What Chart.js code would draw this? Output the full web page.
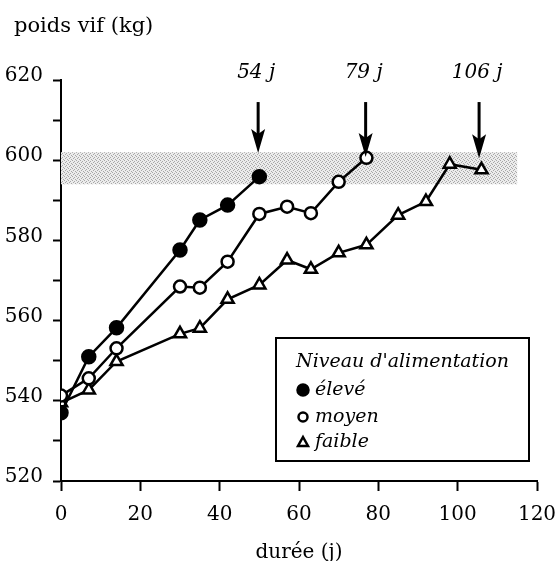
<!DOCTYPE html>
<html>
<head>
<meta charset="utf-8">
<script src="https://cdn.jsdelivr.net/npm/chart.js@4"></script>
<style>
  html, body { margin: 0; padding: 0; background: #fff; }
  #wrap { width: 557px; height: 561px; position: relative; }
</style>
</head>
<body>
<div id="wrap"><canvas id="poidsChart"></canvas></div>
<script>
// données
const eleveJours = [0, 7, 14, 30, 35, 42, 50];
const eleveKg = [537, 551, 558.2, 577.6, 585.1, 588.8, 595.9];

const moyenJours = [0, 7, 14, 30, 35, 42, 50, 57, 63, 70, 77];
const moyenKg = [541.3, 545.6, 553.1, 568.5, 568.2, 574.7, 586.6, 588.4, 586.8, 594.6, 600.6];

const faibleJours = [0, 7, 14, 30, 35, 42, 50, 57, 63, 70, 77, 85, 92, 98, 106];
const faibleKg = [539.5, 542.7, 549.8, 556.7, 558.1, 565.3, 568.9, 575.1, 572.8, 576.9, 578.9, 586.3, 589.7, 599, 597.6];

// zone grisée (poids d'abattage visé)
const bandeKg = [594, 602];
const bandeJours = [0, 115];

// flèches + durées
const flecheJours = [49.7, 76.8, 105.4];
const flecheLabels = ['54 j', '79 j', '106 j'];
const flecheHautKg = 614.5;
const flechePointeKg = [601.8, 600.8, 600.5];
const flecheLabelKg = 621.7;

const titreY = 'poids vif (kg)';
const titreX = 'durée (j)';

const SERIF = "'DejaVu Serif', serif";

function toPts(xs, ys) {
    return xs.map((x, i) => ({ x: x, y: ys[i] }));
}

// motif pointillé pour la bande
function makeStipple(ctx) {
    const c = document.createElement('canvas');
    c.width = 4; c.height = 4;
    const p = c.getContext('2d');
    p.fillStyle = '#ececec';
    p.fillRect(0, 0, 4, 4);
    p.fillStyle = '#a8a8a8';
    p.fillRect(0, 0, 1, 1);
    p.fillRect(2, 1, 1, 1);
    p.fillRect(1, 2, 1, 1);
    p.fillRect(3, 3, 1, 1);
    return ctx.createPattern(c, 'repeat');
}

const annotations = {
    id: 'annotations',
    beforeDatasetsDraw(chart) {
        const { ctx, scales: { x, y }, chartArea } = chart;
        ctx.save();
        ctx.beginPath();
        ctx.rect(chartArea.left, chartArea.top, chartArea.width, chartArea.height);
        ctx.clip();
        const x0 = x.getPixelForValue(bandeJours[0]);
        const x1 = x.getPixelForValue(bandeJours[1]);
        const y0 = y.getPixelForValue(bandeKg[1]);
        const y1 = y.getPixelForValue(bandeKg[0]);
        ctx.fillStyle = makeStipple(ctx);
        ctx.fillRect(x0, y0, x1 - x0, y1 - y0);
        ctx.restore();
    },
    afterDraw(chart) {
        const { ctx, scales: { x, y }, chartArea } = chart;
        ctx.save();

        // titre de l'axe y, en haut à gauche
        ctx.fillStyle = '#000';
        ctx.font = '21px ' + SERIF;
        ctx.textAlign = 'left';
        ctx.textBaseline = 'middle';
        ctx.fillText(titreY, 14, 27);

        // flèches
        flecheJours.forEach((j, i) => {
            const px = x.getPixelForValue(j);
            const top = y.getPixelForValue(flecheHautKg);
            const tip = y.getPixelForValue(flechePointeKg[i]);
            ctx.strokeStyle = '#000';
            ctx.lineWidth = 3;
            ctx.beginPath();
            ctx.moveTo(px, top);
            ctx.lineTo(px, tip - 18);
            ctx.stroke();
            ctx.fillStyle = '#000';
            ctx.beginPath();
            ctx.moveTo(px - 7, tip - 24);
            ctx.lineTo(px, tip - 19);
            ctx.lineTo(px + 7, tip - 24);
            ctx.lineTo(px, tip);
            ctx.closePath();
            ctx.fill();

            ctx.font = 'italic 20px ' + SERIF;
            ctx.textAlign = 'center';
            ctx.textBaseline = 'middle';
            ctx.fillText(flecheLabels[i], px - 2, y.getPixelForValue(flecheLabelKg));
        });

        // légende encadrée
        const bx = chartArea.right - 261, by = chartArea.bottom - 143;
        const bw = 253, bh = 123;
        ctx.fillStyle = '#fff';
        ctx.fillRect(bx, by, bw, bh);
        ctx.strokeStyle = '#000';
        ctx.lineWidth = 2;
        ctx.strokeRect(bx, by, bw, bh);

        ctx.fillStyle = '#000';
        ctx.font = 'italic 19px ' + SERIF;
        ctx.textAlign = 'left';
        ctx.textBaseline = 'alphabetic';
        ctx.fillText("Niveau d'alimentation", bx + 20, by + 29);

        const rows = [52, 79, 104];
        ctx.textBaseline = 'middle';
        chart.data.datasets.forEach((ds, i) => {
            const my = by + rows[i];
            const mx = bx + 27;
            ctx.lineWidth = 2.5;
            ctx.strokeStyle = '#000';
            ctx.fillStyle = ds.pointBackgroundColor;
            ctx.beginPath();
            if (ds.pointStyle === 'triangle') {
                ctx.moveTo(mx, my - 5);
                ctx.lineTo(mx + 5, my + 4);
                ctx.lineTo(mx - 5, my + 4);
                ctx.closePath();
            } else {
                ctx.arc(mx, my, ds.pointBackgroundColor === '#000' ? 5.5 : 4.5, 0, Math.PI * 2);
            }
            ctx.fill();
            ctx.stroke();
            ctx.fillStyle = '#000';
            ctx.fillText(ds.label, bx + 39, my);
        });

        ctx.restore();
    }
};

const serieStyle = {
    borderColor: '#000',
    borderWidth: 2.5,
    pointBorderColor: '#000',
    pointBorderWidth: 2.5,
    tension: 0,
    fill: false
};

new Chart(document.getElementById('poidsChart'), {
    type: 'line',
    data: {
        datasets: [
            Object.assign({ label: 'élevé', data: toPts(eleveJours, eleveKg),
                pointStyle: 'circle', pointRadius: 6.5, pointBackgroundColor: '#000' }, serieStyle),
            Object.assign({ label: 'moyen', data: toPts(moyenJours, moyenKg),
                pointStyle: 'circle', pointRadius: 6, pointBackgroundColor: '#fff' }, serieStyle),
            Object.assign({ label: 'faible', data: toPts(faibleJours, faibleKg),
                pointStyle: 'triangle', pointRadius: 7, pointBackgroundColor: '#fff' }, serieStyle)
        ]
    },
    options: {
        responsive: true,
        maintainAspectRatio: false,
        animation: false,
        layout: { padding: { left: 0, right: 20, top: 80, bottom: 0 } },
        plugins: {
            legend: { display: false },
            tooltip: { enabled: false },
            title: { display: false }
        },
        scales: {
            x: {
                type: 'linear',
                min: 0, max: 120,
                afterFit: (s) => { s.height = 80; s.paddingLeft = 0; s.paddingRight = 0; },
                border: { display: true, color: '#000', width: 2 },
                grid: { drawOnChartArea: false, drawTicks: true, tickLength: 10, color: '#000', tickWidth: 2 },
                ticks: { stepSize: 20, color: '#000', padding: 12, maxRotation: 0,
                    font: { family: SERIF, size: 20 } },
                title: { display: true, text: titreX, color: '#000',
                    font: { family: SERIF, size: 20 }, padding: { top: 0, bottom: -4 } }
            },
            y: {
                min: 520, max: 620,
                afterFit: (s) => { s.width = 61; },
                border: { display: true, color: '#000', width: 2 },
                grid: { drawOnChartArea: false, drawTicks: true, tickLength: 8, color: '#000', tickWidth: 2 },
                ticks: { stepSize: 10, color: '#000', padding: 10, labelOffset: -4,
                    font: { family: SERIF, size: 20 },
                    callback: (v) => (v % 20 === 0 ? v : '') }
            }
        }
    },
    plugins: [annotations]
});
</script>
</body>
</html>
